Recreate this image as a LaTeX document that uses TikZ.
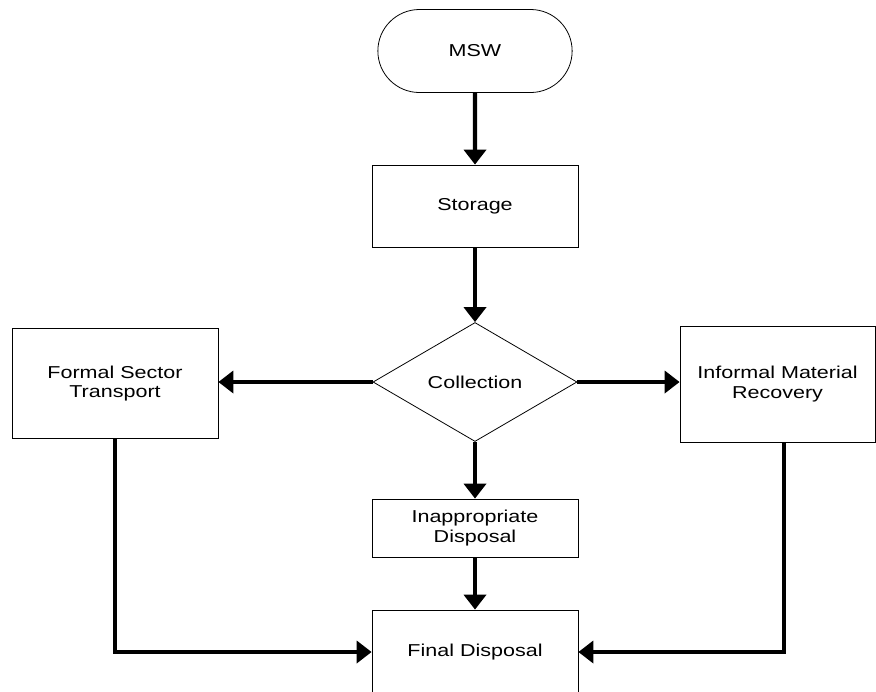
\documentclass[tikz,border=0pt]{standalone}
\usepackage{fontspec}
\setmainfont{Liberation Sans}[FakeStretch=1.25]
\usepackage{tikz}
\usetikzlibrary{shapes,arrows.meta,positioning,calc,shapes.geometric,shapes.misc}

\begin{document}
\begin{tikzpicture}[
        term/.style={draw, line width=0.45pt, rounded rectangle, minimum width=4.12cm, minimum height=1.66cm, align=center, font=\fontsize{9.8}{11}\selectfont},
        proc/.style={draw, line width=0.45pt, rectangle, minimum width=4.12cm, align=center, inner sep=0pt, font=\fontsize{9.8}{11}\selectfont},
        decide/.style={draw, line width=0.45pt, diamond, minimum width=4.08cm, minimum height=2.38cm, inner sep=0pt, align=center, font=\fontsize{9.8}{11}\selectfont},
        arr/.style={line width=2.4pt, -{Triangle[length=8.5pt,width=12.5pt]}}
    ]
        \useasboundingbox (0,0) rectangle (17.52,-13.82);

        % Start
        \node[term] (nMSW) at (9.5, -1.02) {MSW};

        % Steps
        \node[proc, minimum height=1.64cm] (nStorage) at (9.5, -4.12) {Storage};
        \node[decide] (nCollect) at (9.5, -7.64) {Collection};
        \node[proc, minimum height=2.2cm] (nFormal) at (2.3, -7.67) {Formal Sector\\Transport};
        \node[proc, minimum width=3.9cm, minimum height=2.32cm] (nInformal) at (15.55, -7.68) {Informal Material\\Recovery};
        \node[proc, minimum height=1.16cm] (nInapp) at (9.5, -10.56) {Inappropriate\\Disposal};
        \node[proc, minimum height=1.68cm] (nFinal) at (9.5, -13.04) {Final Disposal};

        % Flows
        \draw[arr] (nMSW) -- (nStorage);
        \draw[arr] (nStorage) -- (nCollect);
        \draw[arr] (nCollect.west) -- (nCollect.west -| nFormal.east);
        \draw[arr] (nCollect.east) -- (nCollect.east -| nInformal.west);
        \draw[arr] (nCollect) -- (nInapp);
        \draw[arr] (nInapp) -- (nFinal);
        \draw[arr] (nFormal.south) |- (nFinal.west);
        \draw[arr] ([xshift=0.13cm]nInformal.south) |- (nFinal.east);
    \end{tikzpicture}
\end{document}
